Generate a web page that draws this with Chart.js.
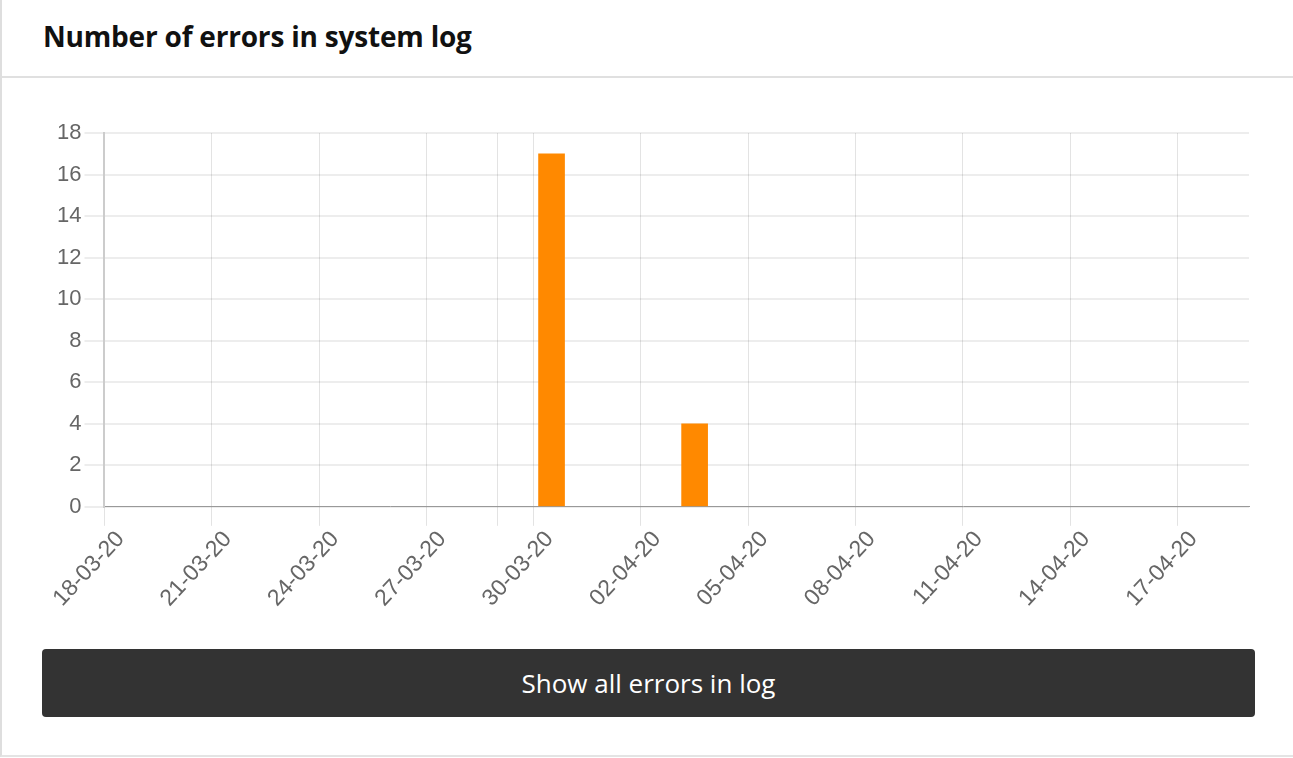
<!DOCTYPE html>
<html>
<head>
<meta charset="utf-8">
<script src="https://cdn.jsdelivr.net/npm/chart.js@4.4.0/dist/chart.umd.min.js"></script>
<style>
  body { margin: 0; background: #fff; font-family: "Open Sans", Lato, sans-serif; }
  .card { position: absolute; left: 0; top: 0; width: 1291px; height: 755px; border-left: 2px solid #dedede; border-bottom: 2px solid #e4e4e4; background: #fff; }
  .card h2 { position: absolute; left: 41px; top: 17px; margin: 0; font-size: 28px; font-weight: 700; color: #111; letter-spacing: -0.2px; }
  .divider { position: absolute; left: 0; top: 76px; width: 1291px; height: 2px; background: #e0e0e0; }
  .chartbox { position: absolute; left: -2px; top: 100px; width: 1293px; height: 520px; }
  .btn { position: absolute; left: 40px; top: 649px; width: 1213px; height: 68px; background: #333; border-radius: 4px; color: #fff; font-size: 26px; font-weight: 500; line-height: 68px; text-align: center; }
</style>
</head>
<body>
<div class="card">
  <h2>Number of errors in system log</h2>
  <div class="divider"></div>
  <div class="chartbox"><canvas id="errChart"></canvas></div>
  <div class="btn">Show all errors in log</div>
</div>
<script>
  // axis range and labels
  const startDate = '2020-03-18T00:00:00Z';
  const dayCount = 32;
  const tickStep = 3;
  const tickLabels = ['18-03-20', '21-03-20', '24-03-20', '27-03-20', '30-03-20', '02-04-20',
    '05-04-20', '08-04-20', '11-04-20', '14-04-20', '17-04-20'];
  const extraGridDay = 11; // odd extra grid line (29-03, clock change)

  // errors per day
  const errorDates = ['2020-03-30T12:00:00Z', '2020-04-03T12:00:00Z'];
  const errorCounts = [17, 4];

  const yMax = 18;
  const yStep = 2;

  function dayOffset(d) {
    return (Date.parse(d) - Date.parse(startDate)) / 86400000;
  }

  const points = errorDates.map((d, i) => ({ x: dayOffset(d), y: errorCounts[i] }));

  const tickFont = { family: 'Arial, "Liberation Sans", sans-serif', size: 22 };

  const config = {
    type: 'bar',
    data: {
      datasets: [{
        label: 'Errors',
        data: points,
        backgroundColor: 'rgb(255, 137, 0)',
        borderWidth: 0,
        barThickness: 26
      }]
    },
    options: {
      responsive: true,
      maintainAspectRatio: false,
      animation: false,
      layout: { padding: { left: 54, right: 44, top: 33, bottom: 8 } },
      plugins: { legend: { display: false }, tooltip: { enabled: false } },
      scales: {
        x: {
          type: 'linear',
          min: 0,
          max: dayCount,
          offset: false,
          afterBuildTicks: (scale) => {
            let t = [];
            tickLabels.forEach((l, i) => {
              if (i * tickStep > extraGridDay && t.every(o => o.value != extraGridDay)) t.push({ value: extraGridDay });
              t.push({ value: i * tickStep });
            });
            scale.ticks = t;
          },
          ticks: {
            autoSkip: false,
            maxRotation: 47,
            minRotation: 47,
            padding: 0,
            labelOffset: 16,
            color: '#666',
            font: { family: tickFont.family, size: 23 },
            callback: (v) => (v % tickStep === 0 ? tickLabels[v / tickStep] : '')
          },
          grid: { offset: false, color: 'rgba(0,0,0,0.11)', lineWidth: 1, tickLength: 19 },
          border: { color: '#999', width: 1 }
        },
        y: {
          min: 0,
          max: yMax,
          ticks: { stepSize: yStep, color: '#666', font: tickFont, padding: 3 },
          grid: { color: 'rgba(0,0,0,0.07)', lineWidth: 2, tickLength: 20 },
          border: { color: '#ccc', width: 2 }
        }
      }
    }
  };

  var errChart = new Chart(document.getElementById('errChart'), config);
</script>
</body>
</html>
